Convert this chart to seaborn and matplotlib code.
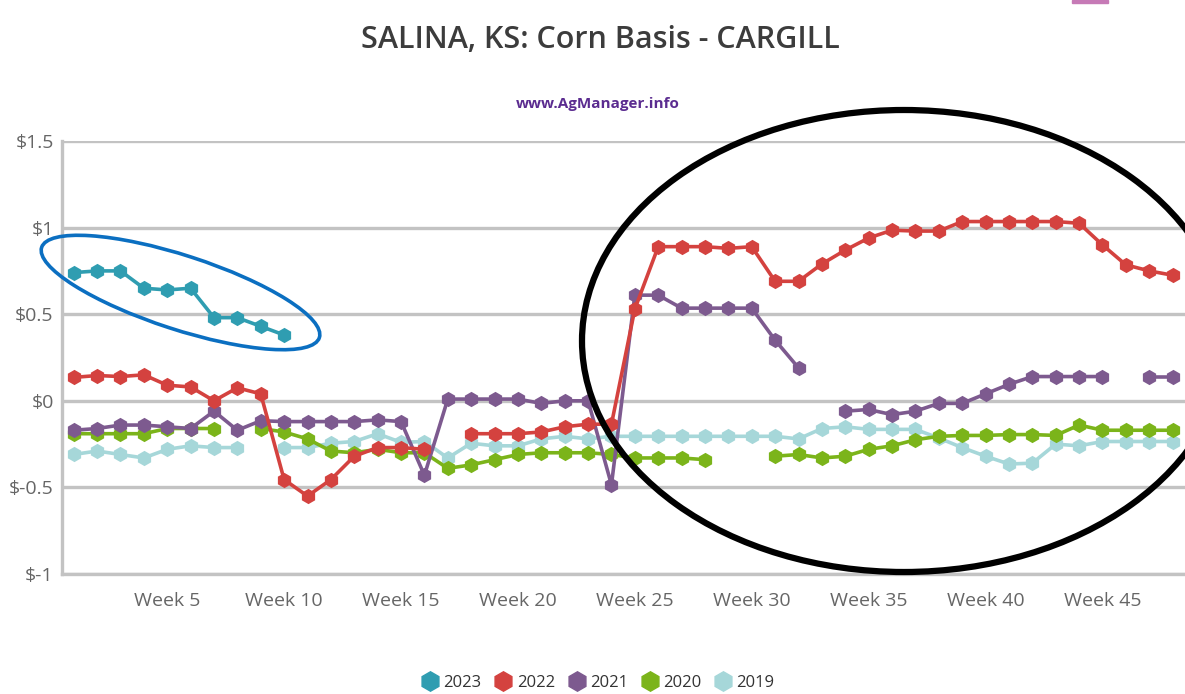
"""Weekly corn basis, Salina KS (Cargill), 2019-2023"""
import numpy as np
import pandas as pd
import matplotlib
matplotlib.use("Agg")
import matplotlib.pyplot as plt
import seaborn as sns
from matplotlib.lines import Line2D
from matplotlib.patches import Ellipse, Rectangle
from matplotlib.transforms import IdentityTransform

# data, weeks 1..48 (None = no quote)
weeks = list(range(1, 49))
N = None
basis_2023 = [0.74, 0.75, 0.75, 0.65, 0.64, 0.65, 0.48, 0.48, 0.43, 0.38] + [N] * 38
basis_2022 = [0.135, 0.146, 0.14, 0.15, 0.09, 0.08, 0.0, 0.075, 0.04, -0.455,
              -0.55, -0.455, -0.32, -0.27, -0.27, -0.28, N, -0.19, -0.19, -0.19,
              -0.18, -0.15, -0.135, -0.135, 0.53, 0.89, 0.89, 0.89, 0.88, 0.89,
              0.69, 0.69, 0.79, 0.87, 0.94, 0.985, 0.98, 0.98, 1.035, 1.035,
              1.035, 1.035, 1.035, 1.025, 0.90, 0.785, 0.75, 0.725]
basis_2021 = [-0.17, -0.16, -0.14, -0.14, -0.15, -0.16, -0.06, -0.17, -0.115, -0.12,
              -0.12, -0.12, -0.12, -0.11, -0.12, -0.43, 0.01, 0.01, 0.01, 0.01,
              -0.015, 0.0, 0.0, -0.485, 0.61, 0.61, 0.535, 0.535, 0.535, 0.535,
              0.35, 0.19, N, -0.06, -0.05, -0.08, -0.06, -0.015, -0.015, 0.04,
              0.095, 0.14, 0.14, 0.14, 0.14, N, 0.14, 0.14]
basis_2020 = [-0.19, -0.19, -0.19, -0.19, -0.16, -0.16, -0.16, N, -0.16, -0.18,
              -0.22, -0.29, -0.30, -0.28, -0.30, -0.30, -0.39, -0.37, -0.34, -0.31,
              -0.30, -0.30, -0.30, -0.31, -0.33, -0.33, -0.33, -0.34, N, N,
              -0.32, -0.31, -0.33, -0.32, -0.28, -0.26, -0.225, -0.205, -0.2, -0.2,
              -0.195, -0.195, -0.2, -0.14, -0.17, -0.17, -0.17, -0.17]
basis_2019 = [-0.31, -0.29, -0.31, -0.33, -0.28, -0.26, -0.27, -0.27, N, -0.27,
              -0.27, -0.245, -0.235, -0.19, -0.24, -0.235, -0.33, -0.245, -0.26, -0.26,
              -0.22, -0.205, -0.22, -0.205, -0.205, -0.205, -0.205, -0.205, -0.205, -0.205,
              -0.205, -0.22, -0.16, -0.15, -0.165, -0.165, -0.165, -0.215, -0.27, -0.32,
              -0.365, -0.36, -0.25, -0.26, -0.235, -0.235, -0.235, -0.235]

years = ["2023", "2022", "2021", "2020", "2019"]
series = [basis_2023, basis_2022, basis_2021, basis_2020, basis_2019]
colors = ["#2f9db1", "#d4423f", "#7d5a8f", "#7bb41a", "#a6d7d9"]
palette = dict(zip(years, colors))

# long format, with a segment id so gaps stay gaps
frames = []
for yr, vals in zip(years, series):
    d = pd.DataFrame({"week": weeks,
                      "basis": [np.nan if v is None else v for v in vals]})
    d["seg"] = d["basis"].isna().cumsum()
    d["year"] = yr
    frames.append(d.dropna())
df = pd.concat(frames, ignore_index=True)
df["unit"] = df["year"] + "_" + df["seg"].astype(str)

sns.set_style("white")
plt.rcParams["font.family"] = ["Open Sans", "DejaVu Sans"]

W, H = 1185, 694
fig = plt.figure(figsize=(W / 100, H / 100), dpi=100)
ax = fig.add_axes([62 / W, 120 / H, 1 - 62 / W, 433 / H])

# older years first so 2023 sits on top
sns.lineplot(data=df, x="week", y="basis", hue="year", units="unit",
             estimator=None, sort=False, palette=palette,
             hue_order=years[::-1], marker="h", markersize=11,
             markeredgewidth=0, linewidth=2.6, legend=False, ax=ax)

ax.set_xlim(0.5, 48.53)
ax.set_ylim(-1, 1.5)
ax.set_xlabel("")
ax.set_ylabel("")

yt = [-1, -0.5, 0, 0.5, 1, 1.5]
ax.set_yticks(yt)
ax.set_yticklabels(["$-1", "$-0.5", "$0", "$0.5", "$1", "$1.5"])
xt = list(range(5, 50, 5))
ax.set_xticks(xt)
ax.set_xticklabels([f"Week {w}" for w in xt])

grey = "#c3c3c3"
ax.yaxis.grid(True, color=grey, linewidth=2.4)
ax.set_axisbelow(True)
for side in ["top", "right"]:
    ax.spines[side].set_visible(False)
for side in ["left", "bottom"]:
    ax.spines[side].set_color(grey)
    ax.spines[side].set_linewidth(2.4)
ax.tick_params(axis="y", length=4, width=2, color=grey, labelsize=14,
               labelcolor="#666666", pad=2)
ax.tick_params(axis="x", length=8, width=2, color=grey, labelsize=14,
               labelcolor="#666666", pad=5)

fig.text(600 / W, 1 - 40 / H, "SALINA, KS: Corn Basis - CARGILL", ha="center",
         va="center", fontsize=22, fontweight="semibold", color="#3c3c3c")
fig.text(598 / W, 1 - 104 / H, "www.AgManager.info", ha="center", va="center",
         fontsize=11, fontweight="bold", color="#5b2c90")

handles = [Line2D([], [], marker="h", color=c, linestyle="None", markersize=14)
           for c in colors]
fig.legend(handles, years, loc="center", bbox_to_anchor=(598 / W, 1 - 683 / H),
           ncol=5, frameon=False, fontsize=12, handlelength=1.0,
           handletextpad=0.3, columnspacing=0.8, labelcolor="#333333")

# hand-drawn call-out ellipses (pixel coords)
pix = IdentityTransform()
fig.add_artist(Ellipse((180.5, H - 292.5), 292, 74, angle=-18, fill=False,
                       edgecolor="#0b6fc1", linewidth=2.6, transform=pix))
fig.add_artist(Ellipse((904, H - 341), 644, 462, angle=0, fill=False,
                       edgecolor="black", linewidth=4.5, transform=pix))
fig.add_artist(Rectangle((1072, H - 3), 36, 3, color="#c67ab6", transform=pix))

fig.savefig("out.png", dpi=100)
